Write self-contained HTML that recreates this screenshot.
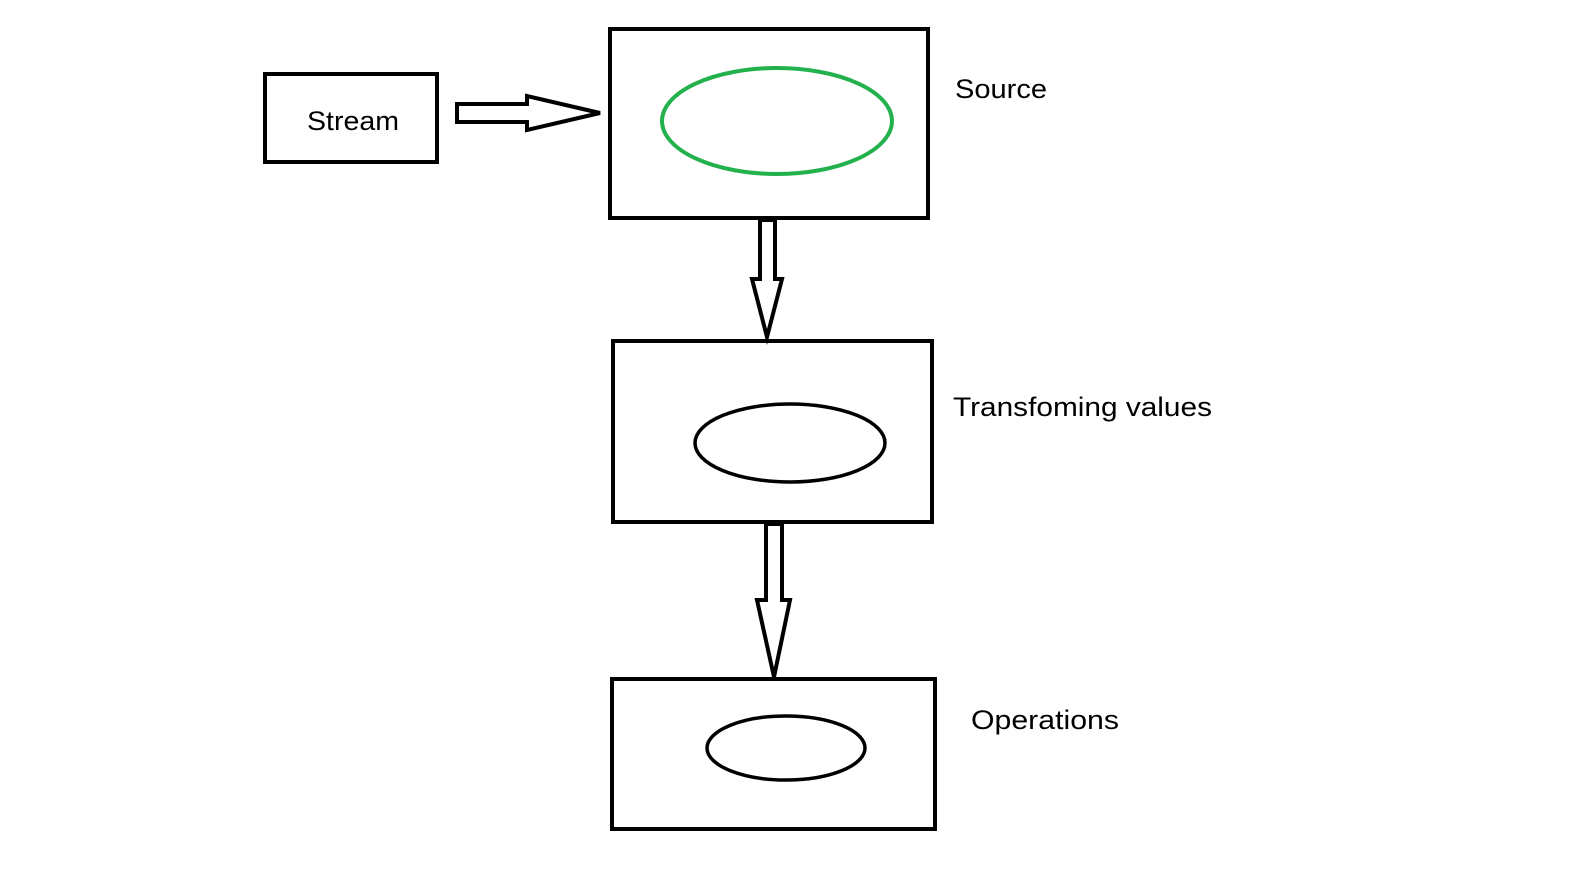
<!DOCTYPE html>
<html><head><meta charset="utf-8"><style>html,body{margin:0;padding:0;background:#fff}svg{display:block}</style></head>
<body>
<svg width="1585" height="891" viewBox="0 0 1585 891" xmlns="http://www.w3.org/2000/svg">
<g fill="none" stroke="#000" stroke-width="4">
<rect x="265" y="74" width="172" height="88"/>
<rect x="610" y="29" width="318" height="189"/>
<rect x="613" y="341" width="319" height="181"/>
<rect x="612" y="679" width="323" height="150"/>
<ellipse cx="790" cy="443" rx="95" ry="39" stroke-width="3.5"/>
<ellipse cx="786" cy="748" rx="79" ry="32" stroke-width="3.5"/>
<polygon points="457,104 527,104 527,96 600,113 527,130 527,122 457,122" stroke-linejoin="miter"/>
<polygon points="760,220 775,220 775,279 782,279 767,337 752,279 760,279"/>
<polygon points="766,524 782,524 782,600 790,600 774,677 757,600 766,600"/>
</g>
<ellipse cx="777" cy="121" rx="115" ry="53" fill="none" stroke="#22b14c" stroke-width="4"/>
<g font-family="Liberation Sans, sans-serif" font-size="27" fill="#000">
<text x="307" y="130" textLength="92" lengthAdjust="spacingAndGlyphs">Stream</text>
<text x="955" y="98" textLength="92" lengthAdjust="spacingAndGlyphs">Source</text>
<text x="953" y="416" textLength="259" lengthAdjust="spacingAndGlyphs">Transfoming values</text>
<text x="971" y="729" textLength="148" lengthAdjust="spacingAndGlyphs">Operations</text>
</g>
</svg>
</body></html>
